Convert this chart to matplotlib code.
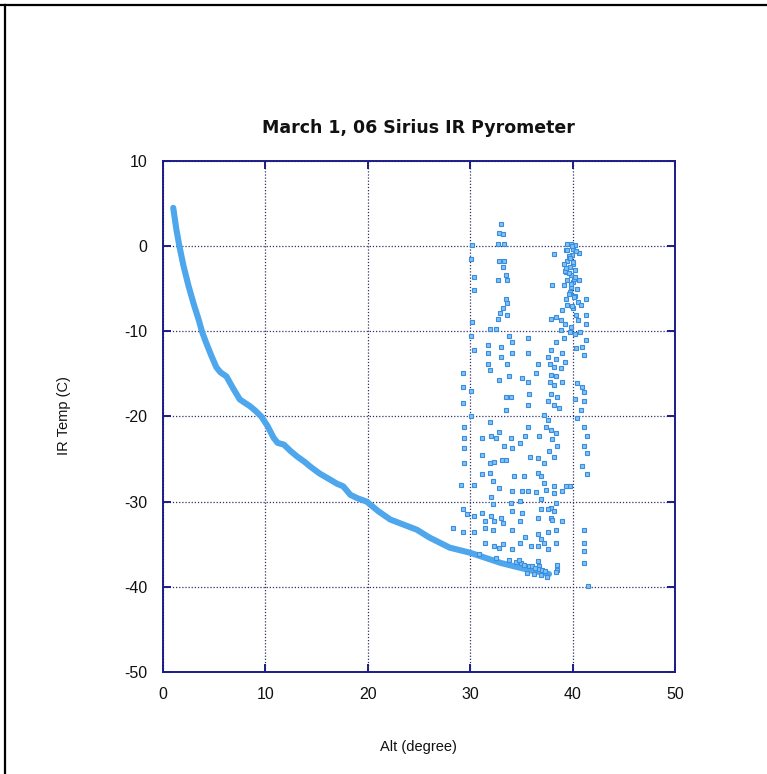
import matplotlib
matplotlib.use("Agg")
import matplotlib.pyplot as plt
from matplotlib.lines import Line2D

plt.rcParams['font.family'] = ['Liberation Sans', 'DejaVu Sans']
plt.rcParams['axes.unicode_minus'] = False

title = "March 1, 06 Sirius IR Pyrometer"
x_label = "Alt (degree)"
y_label = "IR Temp (C)"
x_ticks = [0, 10, 20, 30, 40, 50]
y_ticks = [10, 0, -10, -20, -30, -40, -50]

# dense track of readings (appears as a thick line)
track_alt = [1.0, 1.3, 1.6, 2.0, 2.5, 3.0, 3.5, 3.8, 4.2, 4.7, 5.2, 5.6, 6.2, 6.8,
             7.5, 8.5, 9.0, 9.6, 10.2, 10.8, 11.2, 11.8, 12.5, 13.1, 13.8, 14.4,
             15.3, 16.3, 17.0, 17.6, 18.3, 19.0, 19.9, 21.0, 22.2, 23.5, 24.8,
             26.0, 27.0, 28.0, 29.0, 30.0, 31.0, 32.0, 33.0, 34.0, 35.0, 36.0,
             37.0, 37.7]
track_temp = [4.5, 2.0, 0.0, -2.3, -4.7, -6.8, -8.7, -10.0, -11.3, -12.8, -14.2,
              -14.8, -15.3, -16.6, -18.0, -18.8, -19.3, -20.0, -21.1, -22.5, -23.1,
              -23.3, -24.1, -24.7, -25.3, -25.9, -26.7, -27.4, -27.9, -28.2, -29.2,
              -29.6, -30.0, -31.1, -32.1, -32.7, -33.3, -34.2, -34.8, -35.4, -35.7,
              -36.0, -36.4, -36.8, -37.2, -37.5, -37.8, -38.1, -38.3, -38.5]

# scattered readings at higher altitude
scatter_alt = [
    30.2, 30.4, 30.4, 30.2, 30.4, 29.25, 29.25, 29.25, 29.4, 29.4, 29.4, 29.4,
    29.1, 30.4, 29.25, 28.3, 29.25, 29.7, 30.4, 30.4, 30.1, 30.1, 30.1, 30.1,
    33.0, 32.8, 33.2, 32.7, 33.3, 32.8, 33.3, 33.2, 33.5, 32.7, 33.6, 33.5, 33.6,
    33.2, 32.9, 32.7, 33.6, 31.9, 32.5, 33.8, 34.1, 31.7, 31.7, 31.7, 31.9, 33.0,
    33.0, 34.1, 33.6, 35.6, 35.6, 36.6, 35.1, 32.8, 33.8, 35.6, 36.4, 33.5, 34.0,
    35.7, 33.5, 35.6,
    31.9, 31.2, 32.0, 32.5, 32.8, 34.0, 33.3, 34.1, 34.9, 35.6, 35.4, 36.7, 35.8,
    36.6, 31.2, 31.9, 32.3, 33.1, 33.5, 31.2, 31.9, 34.3, 35.3, 36.6, 36.9, 32.2,
    32.8, 34.1, 35.1, 35.6, 36.4, 37.2, 37.4, 38.2, 38.2, 39.0, 39.4, 32.0, 32.2,
    34.0, 34.9, 36.9, 37.9, 38.2, 38.4, 31.2, 32.0, 33.0, 34.1, 35.1, 36.6, 36.9,
    37.6, 37.9, 31.4, 32.3, 33.2, 34.9, 38.0, 39.0, 41.1, 31.4, 32.2, 34.1, 35.4,
    36.6, 36.9, 37.6, 38.4, 31.4, 32.3, 32.8, 33.2, 34.1, 34.9, 35.9, 36.6, 37.2,
    37.6, 38.4, 41.1, 41.1, 41.1, 38.5, 41.5, 30.9, 32.5, 36.6, 36.7, 38.5, 38.4,
    39.5, 39.8, 40.2, 39.4, 40.0, 38.2, 39.5, 39.2, 40.0, 39.7, 40.2, 39.4, 39.8,
    39.5, 40.0, 39.2, 39.8, 38.0, 39.7, 40.2, 39.4, 40.5, 41.3, 39.5, 40.0, 39.0,
    40.8, 37.9, 38.4, 38.9, 39.3, 39.8, 40.3, 40.5, 41.3, 41.3, 39.7, 40.2, 40.7,
    38.9, 38.4, 39.2, 37.9, 39.0, 40.3, 40.9, 41.3, 41.1, 37.6, 38.4, 37.8, 38.2,
    38.9, 39.3, 37.9, 38.4, 37.8, 38.2, 39.0, 40.4, 40.9, 41.1, 37.9, 38.5, 37.6,
    38.2, 38.7, 40.2, 41.1, 40.8, 37.2, 37.6, 37.4, 37.9, 38.4, 38.0, 38.5, 37.7,
    38.2, 37.2, 40.4, 41.1, 41.4, 41.1, 41.4, 40.9, 41.4, 39.7, 39.9, 40.1, 39.6,
    40.4, 39.3, 39.9, 40.6, 39.6, 40.1,
    34.5, 35.0, 35.3, 35.7, 36.0, 36.3, 36.7, 37.0, 37.3, 35.5, 36.2, 36.9, 37.5,
    33.8, 34.8, 39.5, 39.9, 40.3, 39.7, 40.0, 39.4, 40.2, 39.8, 40.6, 39.6]
scatter_temp = [
    0.1, -3.6, -5.2, -8.9, -12.2, -14.9, -16.5, -18.4, -21.2, -22.5, -23.7, -25.5,
    -28.0, -28.0, -30.9, -33.1, -33.6, -31.5, -31.7, -33.6, -1.5, -10.5, -17.0, -20.0,
    2.6, 1.6, 1.4, 0.3, 0.3, -1.7, -1.7, -2.5, -3.4, -4.0, -4.0, -6.2, -6.7,
    -7.3, -7.9, -8.5, -8.1, -9.7, -9.7, -10.6, -11.2, -11.6, -12.6, -13.8, -14.5, -11.8,
    -13.0, -12.6, -13.8, -10.8, -12.6, -13.8, -15.5, -15.7, -15.3, -15.9, -14.9, -17.7, -17.7,
    -17.3, -19.2, -18.6,
    -20.6, -22.5, -22.3, -22.5, -21.8, -22.5, -23.5, -23.7, -23.1, -21.2, -22.3, -22.3, -24.7,
    -24.9, -24.5, -25.5, -25.3, -25.1, -25.1, -26.8, -26.6, -27.0, -27.0, -26.6, -27.0, -27.6,
    -28.4, -28.8, -28.7, -28.8, -28.9, -27.8, -28.6, -28.2, -29.0, -28.8, -28.2, -29.4, -30.3,
    -30.1, -29.9, -29.7, -30.7, -31.1, -30.1, -31.3, -31.7, -31.9, -31.1, -31.3, -31.9, -30.9,
    -30.9, -31.9, -32.3, -32.3, -32.5, -32.3, -32.1, -32.3, -33.3, -33.1, -33.3, -33.3, -34.2,
    -33.8, -34.4, -33.6, -33.3, -34.8, -35.2, -35.4, -35.0, -35.6, -34.8, -35.2, -35.2, -34.8,
    -35.6, -34.8, -34.8, -35.8, -37.2, -38.0, -39.9, -36.2, -36.6, -37.0, -37.5, -37.4, -38.3,
    0.2, 0.3, 0.1, -0.5, -0.3, -0.9, -1.7, -2.1, -2.1, -2.5, -2.8, -3.0, -3.4,
    -4.0, -4.2, -4.6, -4.8, -4.6, -5.4, -5.8, -6.2, -6.5, -6.2, -6.9, -7.3, -7.5,
    -6.9, -8.5, -8.3, -8.7, -9.1, -9.5, -8.1, -8.7, -8.1, -9.1, -10.1, -10.3, -10.1,
    -9.9, -11.2, -10.8, -12.2, -12.6, -12.0, -11.8, -11.0, -12.8, -13.0, -13.2, -13.8, -14.2,
    -14.3, -13.6, -15.1, -15.3, -15.9, -16.3, -15.9, -16.1, -16.5, -17.1, -17.3, -17.7, -18.2,
    -18.6, -19.0, -18.0, -18.2, -19.2, -19.8, -20.4, -21.2, -21.6, -21.9, -22.7, -23.5, -24.1,
    -24.7, -25.5, -20.2, -21.2, -22.3, -23.5, -24.3, -25.8, -26.8, -28.2, -1.0, -3.8, -1.2,
    -5.0, -2.9, -7.0, -0.8, -3.1, -6.0,
    -37.1, -37.2, -37.4, -37.5, -37.6, -37.8, -37.9, -38.0, -38.1, -38.4, -38.5, -38.6, -38.8,
    -36.8, -36.9, -0.4, 0.0, -0.6, -1.4, -1.9, -2.6, -3.6, -4.4, -4.0, -5.6]

blue_line = '#4ea6ec'
blue_face = '#82c2f5'
blue_edge = '#3a8ddd'
navy = '#1c1c8a'

fig = plt.figure(figsize=(7.67, 7.74), dpi=100)
ax = fig.add_axes([163/767, 1 - 672/774, 512/767, 511/774])

ax.plot(track_alt, track_temp, color=blue_line, lw=4.4, solid_capstyle='round',
        solid_joinstyle='round', zorder=3)
ax.plot(scatter_alt, scatter_temp, linestyle='none', marker='s', ms=3.0,
        mfc=blue_face, mec=blue_edge, mew=0.8, zorder=3)

ax.set_xlim(0, 50)
ax.set_ylim(-50, 10)
ax.set_xticks(x_ticks)
ax.set_yticks(y_ticks)
ax.grid(True, color='#30306a', linestyle=(0, (1, 1.5)), linewidth=0.9, zorder=1)
ax.set_axisbelow(True)
for s in ax.spines.values():
    s.set_color(navy)
    s.set_linewidth(1.4)
ax.tick_params(direction='in', length=6, width=1.4, color=navy, top=True, right=True,
               labelsize=11.5, pad=11, labelcolor='#111111')

fig.text(418/767, 1 - 128/774, title, ha='center', va='center', fontsize=12.5,
         fontweight='bold', color='#111111', family=['DejaVu Sans'])
fig.text(418/767, 1 - 747/774, x_label, ha='center', va='center', fontsize=10.5,
         color='#111111')
fig.text(64/767, 1 - 416/774, y_label, ha='center', va='center', rotation=90,
         fontsize=10.5, color='#111111')

fig.add_artist(Line2D([0, 1], [1 - 5/774, 1 - 5/774], transform=fig.transFigure,
                      color='black', lw=1.6))
fig.add_artist(Line2D([5/767, 5/767], [0, 1 - 5/774], transform=fig.transFigure,
                      color='black', lw=1.6))

fig.savefig('out.png', dpi=100)
